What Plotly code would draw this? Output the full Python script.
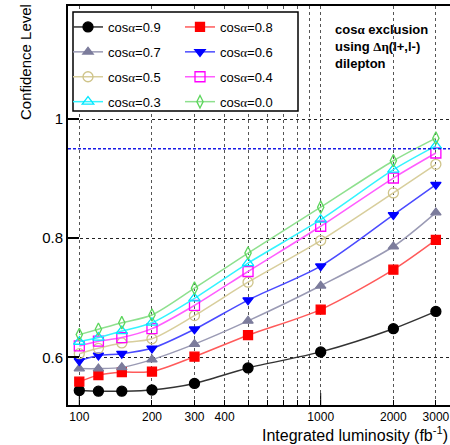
import plotly.graph_objects as go

# Integrated luminosity points (fb^-1)
lumi = [100, 120, 150, 200, 300, 500, 1000, 2000, 3000]

# Confidence level of excluding each cos(alpha) hypothesis
cl_09 = [0.544, 0.543, 0.543, 0.545, 0.556, 0.582, 0.609, 0.648, 0.677]
cl_08 = [0.559, 0.570, 0.575, 0.576, 0.601, 0.637, 0.680, 0.747, 0.797]
cl_07 = [0.581, 0.581, 0.583, 0.596, 0.622, 0.661, 0.720, 0.786, 0.843]
cl_06 = [0.594, 0.603, 0.606, 0.615, 0.647, 0.696, 0.753, 0.839, 0.890]
cl_05 = [0.606, 0.615, 0.624, 0.631, 0.670, 0.726, 0.796, 0.876, 0.924]
cl_04 = [0.619, 0.627, 0.633, 0.648, 0.687, 0.744, 0.820, 0.901, 0.943]
cl_03 = [0.626, 0.633, 0.644, 0.658, 0.699, 0.758, 0.831, 0.915, 0.955]
cl_00 = [0.638, 0.647, 0.658, 0.671, 0.716, 0.775, 0.852, 0.930, 0.968]

cos_labels = ["0.9", "0.8", "0.7", "0.6", "0.5", "0.4", "0.3", "0.0"]
threshold = 0.95

x_tickvals = [100, 200, 300, 400, 500, 600, 700, 800, 900, 1000, 2000, 3000]
x_ticktext = ["100", "200", "300", "400", "", "", "", "", "", "1000", "2000", "3000"]
y_tickvals = [0.6, 0.8, 1.0]
y_ticktext = ["0.6", "0.8", "1"]

FONT = "Liberation Sans, Arial, Helvetica, sans-serif"
GREEK = "<span style=\"font-family:'Liberation Serif'\">%s</span>"

series = [cl_09, cl_08, cl_07, cl_06, cl_05, cl_04, cl_03, cl_00]
styles = [
    # (marker symbol, marker colour, line colour, marker size)
    ("circle", "#000000", "#333333", 10),
    ("square", "#ff0000", "#ff5a5a", 9),
    ("triangle-up", "#7c7c9c", "#9a9ab4", 9),
    ("triangle-down", "#0000ff", "#4a4aff", 9),
    ("circle-open", "#cfc48a", "#d8ce9c", 10),
    ("square-open", "#ff00ff", "#ff5cff", 10),
    ("triangle-up-open", "#00e8ff", "#33f4ff", 10),
    ("diamond-tall-open", "#5cd65c", "#8ee08e", 9),
]

fig = go.Figure()
for i, (vals, lab, (sym, mcol, lcol, msz)) in enumerate(zip(series, cos_labels, styles)):
    fig.add_trace(go.Scatter(
        x=lumi, y=vals, mode="lines+markers",
        name="cos" + GREEK % "\u03b1" + "=" + lab,
        line=dict(color=lcol, width=1.5, shape="spline", smoothing=0.8),
        marker=dict(symbol=sym, color=mcol, size=msz,
                    line=dict(color=mcol, width=1.3)),
        legend="legend" if i % 2 == 0 else "legend2",
        legendgroup="g%d" % i,
    ))

W, H = 450, 445
L, R, T, B = 68, 0, 6, 40
pw, ph = W - L - R, H - T - B


def px_x(p):
    return (p - L) / pw


def px_y(p):
    return 1 - (p - T) / ph


legend_common = dict(
    bgcolor="rgba(0,0,0,0)", borderwidth=0,
    font=dict(family=FONT, size=13, color="black"),
    tracegroupgap=5, itemwidth=30,
    xanchor="left", yanchor="top", xref="paper", yref="paper",
)

fig.update_layout(
    width=W, height=H,
    margin=dict(l=L, r=R, t=T, b=B, autoexpand=False),
    paper_bgcolor="white", plot_bgcolor="white",
    font=dict(family=FONT, color="black"),
    showlegend=True,
    legend=dict(x=px_x(68), y=px_y(12), **legend_common),
    legend2=dict(x=px_x(180), y=px_y(12), **legend_common),
    xaxis=dict(
        type="log", range=[1.9532, 3.5356],
        tickmode="array", tickvals=x_tickvals, ticktext=x_ticktext,
        ticks="inside", ticklen=5, tickwidth=1, tickcolor="black",
        ticklabeloverflow="allow",
        showgrid=True, gridcolor="#555555", griddash="dot", gridwidth=1,
        showline=True, linecolor="black", linewidth=2, mirror=True,
        tickfont=dict(family=FONT, size=12, color="black"),
        zeroline=False,
    ),
    yaxis=dict(
        range=[0.5198, 1.1899],
        tickmode="array", tickvals=y_tickvals, ticktext=y_ticktext,
        ticks="inside", ticklen=11, tickwidth=2, tickcolor="black",
        showgrid=True, gridcolor="#222222", griddash="dot", gridwidth=1,
        showline=True, linecolor="black", linewidth=2, mirror=False,
        tickfont=dict(family=FONT, size=15, color="black"),
        zeroline=False,
    ),
)

# Longer ticks at the decade marks
for dec in (100, 1000):
    fig.add_shape(type="line", xref="x", yref="paper", x0=dec, x1=dec,
                  y0=0, y1=12 / ph, line=dict(color="black", width=1), layer="above")

# Exclusion threshold
fig.add_shape(type="line", xref="paper", yref="y", x0=0, x1=1,
              y0=threshold, y1=threshold,
              line=dict(color="#1a1ae6", width=1.5, dash="3px,2px"), layer="above")

# Legend frame
fig.add_shape(type="rect", xref="paper", yref="paper",
              x0=px_x(73), x1=px_x(298), y0=px_y(111), y1=px_y(12),
              fillcolor="white", line=dict(color="black", width=1.5), layer="above")

fig.add_annotation(
    xref="paper", yref="paper", x=px_x(333), y=px_y(20),
    xanchor="left", yanchor="top", align="left", showarrow=False,
    text="<b>cos" + GREEK % "\u03b1" + " exclusion<br>using " + GREEK % "\u0394\u03b7"
         + "(l+,l-)<br>dilepton</b>",
    font=dict(family=FONT, size=13, color="black"),
)

fig.add_annotation(
    xref="paper", yref="paper", x=px_x(25), y=px_y(2),
    xanchor="center", yanchor="top", textangle=-90, showarrow=False,
    text="Confidence Level", font=dict(family=FONT, size=15, color="black"),
)

fig.add_annotation(
    xref="paper", yref="paper", x=1.0, y=px_y(434.5),
    xanchor="right", yanchor="middle", showarrow=False,
    text="Integrated luminosity (fb<sup>-1</sup>)",
    font=dict(family=FONT, size=16, color="black"),
)

fig.write_html("out.html")
